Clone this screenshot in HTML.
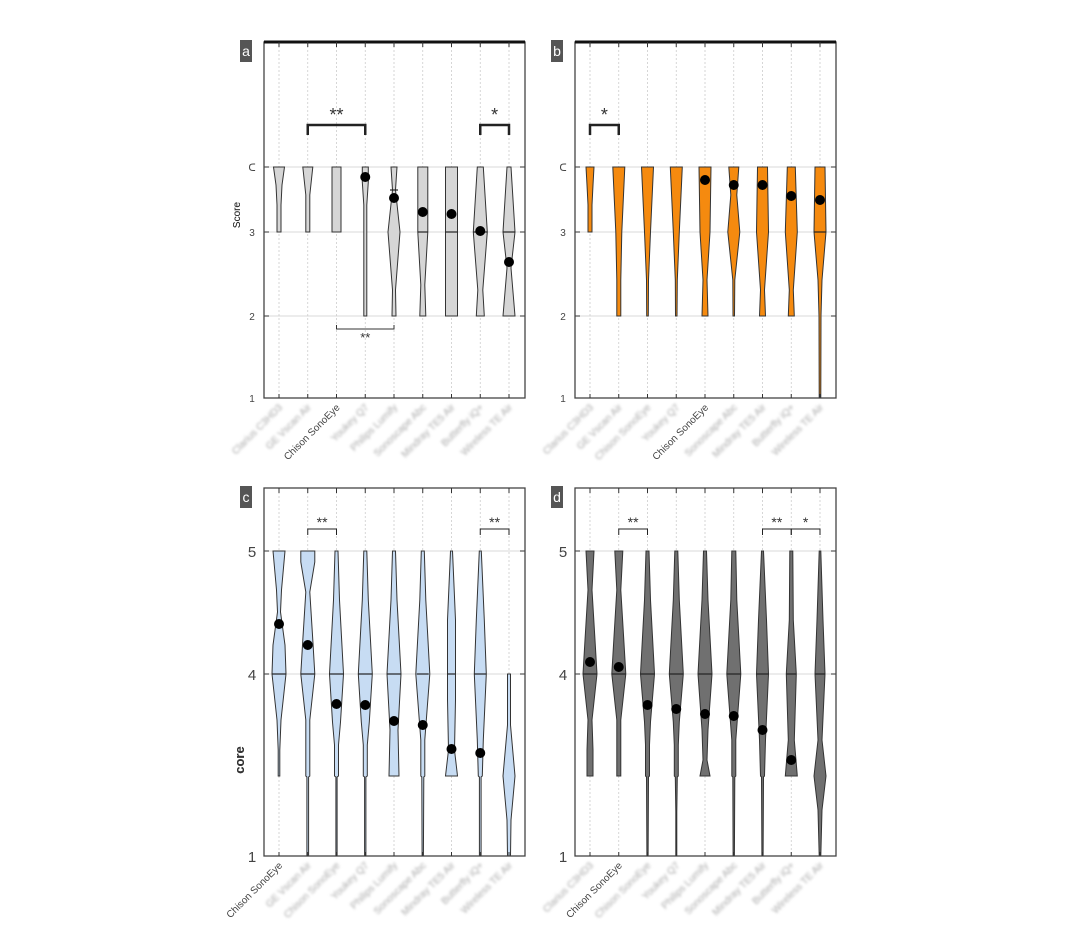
<!DOCTYPE html>
<html><head><meta charset="utf-8"><style>
html,body{margin:0;padding:0;background:#fff;}
svg{display:block;font-family:"Liberation Sans",sans-serif;}
</style></head><body>
<svg id="s" width="1080" height="934" viewBox="0 0 1080 934" xmlns="http://www.w3.org/2000/svg">
<defs><filter id="bl" x="-20%" y="-20%" width="140%" height="140%"><feGaussianBlur stdDeviation="1.3"/></filter></defs>
<g id="g"></g>
</svg>
<script>
const g=document.getElementById('g');let h='';
function add(s){h+=s;}
function violin(x,pts,fill){
  let L=pts.map(p=>(x-p[1]).toFixed(1)+','+p[0]).join(' ');
  let R=pts.slice().reverse().map(p=>(x+p[1]).toFixed(1)+','+p[0]).join(' ');
  add(`<polygon points="${L} ${R}" fill="${fill}" stroke="#333" stroke-width="1"/>`);
}
function panel(o){
  const {dx,top,bot,yt,label,fill,v,dots,med,names,chison,ylabel,ylabY,bold,thickTop}=o;
  const L=264+dx,R=525+dx;const xs=[];for(let i=0;i<9;i++)xs.push(279+dx+28.75*i);
  xs.forEach(x=>add(`<line x1="${x}" y1="${top}" x2="${x}" y2="${bot}" stroke="#ccc" stroke-width="0.8" stroke-dasharray="2,2"/>`));
  yt.forEach(t=>{add(`<line x1="${L}" y1="${t[0]}" x2="${R}" y2="${t[0]}" stroke="#ccc" stroke-width="0.8"/>`);
    add(`<line x1="${L}" y1="${t[0]}" x2="${L+5}" y2="${t[0]}" stroke="#333"/><line x1="${R-5}" y1="${t[0]}" x2="${R}" y2="${t[0]}" stroke="#333"/>`);
    add(`<text x="${L-12}" y="${t[0]+(bold?6:4)}" font-size="${bold?15:10}" fill="#444" text-anchor="middle">${t[1]}</text>`);});
  v.forEach((p,i)=>{ if(p) violin(xs[i],p,fill); });
  med.forEach(m=>add(`<line x1="${xs[m[0]]-m[2]}" y1="${m[1]}" x2="${xs[m[0]]+m[2]}" y2="${m[1]}" stroke="#222" stroke-width="1.2"/>`));
  dots.forEach((d,i)=>{ if(d) add(`<circle cx="${xs[i]}" cy="${d}" r="5" fill="#000"/>`); });
  add(`<rect x="${L}" y="${top}" width="${R-L}" height="${bot-top}" fill="none" stroke="#444" stroke-width="1.3"/>`);
  if(thickTop) add(`<line x1="${L}" y1="${top}" x2="${R}" y2="${top}" stroke="#111" stroke-width="3"/>`);
  xs.forEach(x=>{add(`<line x1="${x}" y1="${bot}" x2="${x}" y2="${bot-4}" stroke="#333"/><line x1="${x}" y1="${top}" x2="${x}" y2="${top+5}" stroke="#333"/>`);});
  add(`<rect x="${240+dx}" y="${top-2}" width="12" height="22" fill="#555"/><text x="${246+dx}" y="${top+14}" font-size="14" fill="#fff" text-anchor="middle">${label}</text>`);
  add(`<text transform="translate(${bold?244:240},${ylabY}) rotate(-90)" font-size="${bold?13:10}" font-weight="${bold?'bold':'normal'}" fill="#333" text-anchor="middle">${ylabel}</text>`);
  xs.forEach((x,i)=>{
    const c=i===chison;
    add(`<text transform="translate(${x+4},${bot+10}) rotate(-45)" font-size="10" text-anchor="end" fill="${c?'#444':'#aaa'}" ${c?'':'filter="url(#bl)"'}>${c?'Chison SonoEye':names[i]}</text>`);
  });
  return xs;
}
const names=['Clarius C3HD3','GE Vscan Air','Chison SonoEye','Youkey Q7','Philips Lumify','Sonoscape Abc','Mindray TE5 Air','Butterfly iQ+','Wireless TE Air'];
function bracket(x1,x2,y,txt,thick,below){
  const sw=thick?2.5:1;
  if(below){add(`<path d="M${x1},${y-4}V${y}H${x2}V${y-4}" fill="none" stroke="#333" stroke-width="${sw}"/>`);
    add(`<text x="${(x1+x2)/2}" y="${y+13}" font-size="13" text-anchor="middle" fill="#333">${txt}</text>`);}
  else{add(`<path d="M${x1},${y+(thick?10:6)}V${y}H${x2}V${y+(thick?10:6)}" fill="none" stroke="#222" stroke-width="${sw}"/>`);
    add(`<text x="${(x1+x2)/2}" y="${y-(thick?4:2)}" font-size="${thick?18:14}" text-anchor="middle" fill="#333">${txt}</text>`);}
}
const ytAB=[[167,'ᑕ'],[232,'3'],[316,'2'],[398,'1']];
const gray='#d6d6d6';
let xa=panel({dx:0,top:42,bot:398,yt:ytAB,label:'a',fill:gray,thickTop:true,ylabel:'Score',ylabY:215,names:names,chison:2,
 v:[[[167,5.5],[185,3],[205,2],[232,2]],[[167,5],[195,2],[232,2]],[[167,4.5],[232,4.5]],[[167,3],[182,3],[205,1.5],[316,1.5]],
    [[167,3],[190,1.5],[232,6],[290,1.5],[316,2]],[[167,5],[232,5],[285,2],[316,3]],[[167,6],[316,6]],[[167,3],[232,7],[290,2.5],[316,4]],[[167,2],[232,6],[268,2],[316,6]]],
 dots:[0,0,0,177,198,212,214,231,262],med:[[4,190,4],[5,232,5],[6,232,6],[7,232,7],[8,232,6]]});
bracket(xa[1],xa[3],125,'**',true);bracket(xa[7],xa[8],125,'*',true);bracket(xa[2],xa[4],329,'**',false,true);
const org='#f58a0f';
let xb=panel({dx:311,top:42,bot:398,yt:ytAB,label:'b',fill:org,thickTop:true,ylabel:'Score',ylabY:215,names:names,chison:4,
 v:[[[167,4],[185,3],[205,2],[232,2]],[[167,6],[232,3],[280,2],[316,2]],[[167,6],[232,3],[280,1],[316,0.8]],[[167,6],[232,3],[280,1],[316,0.8]],
    [[167,6],[232,5],[280,2],[316,3]],[[167,5],[195,3],[232,6],[280,1],[316,0.8]],[[167,5],[232,6],[290,2],[316,3]],[[167,4],[232,6],[290,2],[316,3]],[[167,5],[232,6],[280,2],[316,1],[398,0.8]]],
 dots:[0,0,0,0,180,185,185,196,200],med:[[8,232,6]]});
bracket(xb[0],xb[1],125,'*',true);
const ytCD=[[551,'5'],[674,'4'],[856,'1']];
const blue='#c7dcf3';
let xc=panel({dx:0,top:488,bot:856,yt:ytCD,label:'c',fill:blue,bold:true,ylabel:'core',ylabY:760,names:['',...names.slice(1)],chison:0,
 v:[[[551,6],[590,2.5],[612,1.5],[645,6],[674,7],[720,2],[750,0.8],[776,0.8]],
    [[551,7],[562,7],[592,2],[640,5],[674,7],[720,2],[776,2],[777,0.8],[856,0.8]],
    [[551,1.5],[600,3],[674,7],[722,4],[745,2],[776,2],[777,0.6],[856,0.6]],
    [[551,1.5],[600,3],[674,7],[722,4],[745,2],[776,2],[777,0.6],[856,0.6]],
    [[551,1.5],[600,3],[674,7],[730,4],[776,5]],
    [[551,1.5],[600,3],[674,7],[740,2],[776,2],[777,1],[856,0.6]],
    [[551,1],[620,4],[700,4],[750,3],[776,6]],
    [[551,1],[620,4],[674,6],[740,3],[776,2],[777,0.8],[856,0.8]],
    [[674,1.5],[725,1.5],[776,6],[820,2],[856,1.5]]],
 dots:[624,645,704,705,721,725,749,753,0],med:[[0,674,7],[1,674,7],[2,674,7],[3,674,7],[4,674,7],[5,674,6],[6,674,4],[7,674,6]]});
bracket(xc[1],xc[2],529,'**',false);bracket(xc[7],xc[8],529,'**',false);
const dg='#707070';
let xd=panel({dx:311,top:488,bot:856,yt:ytCD,label:'d',fill:dg,bold:true,ylabel:'core',ylabY:760,names:names,chison:1,
 v:[[[551,4],[590,2],[640,5],[674,7],[720,2],[750,3],[776,3]],
    [[551,4],[590,2],[640,5],[674,7],[720,2],[740,2],[776,2]],
    [[551,1.5],[600,3],[674,7],[722,3],[745,2],[776,2],[777,1],[856,0.6]],
    [[551,1.5],[600,3],[674,7],[722,3],[745,2],[776,2],[777,1],[812,0.5],[856,0.5]],
    [[551,1.5],[600,3],[674,7],[730,3],[760,2],[776,5]],
    [[551,2],[600,3],[674,7],[740,2],[776,2],[777,1],[856,0.6]],
    [[551,1],[620,4],[674,6],[740,3],[776,2],[777,1],[856,0.6]],
    [[551,1.5],[620,2],[674,5],[740,3],[776,6]],
    [[551,0.8],[620,3],[674,5],[740,2],[776,6],[810,2],[856,0.8]]],
 dots:[662,667,705,709,714,716,730,760,0],med:[[0,674,7],[1,674,7],[2,674,7],[3,674,7],[4,674,7],[5,674,7],[6,674,6],[7,674,5],[8,674,5]]});
bracket(xd[1],xd[2],529,'**',false);bracket(xd[6],xd[7],529,'**',false);bracket(xd[7],xd[8],529,'*',false);
g.innerHTML=h;
</script>
</body></html>
